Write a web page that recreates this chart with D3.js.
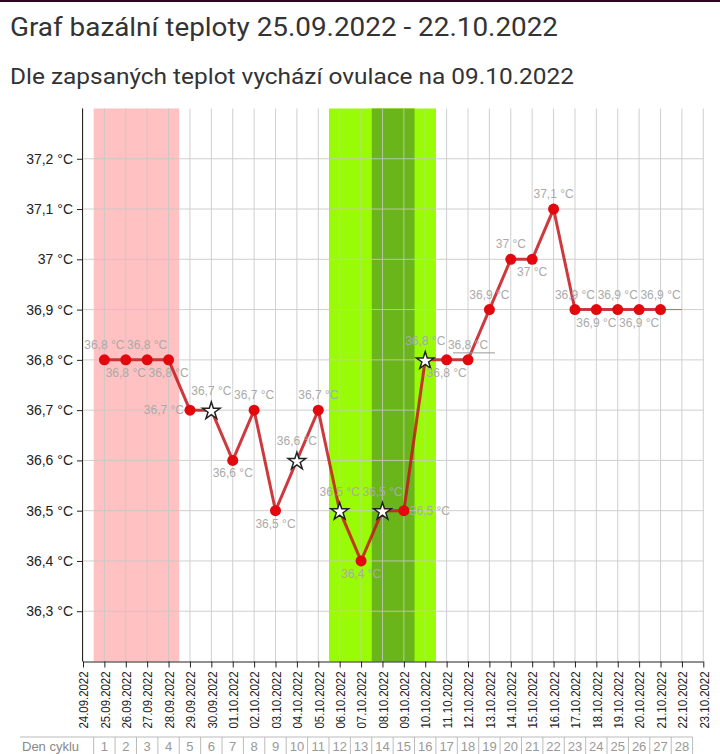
<!DOCTYPE html>
<html><head><meta charset="utf-8">
<script src="https://cdn.jsdelivr.net/npm/d3@7"></script>
<style>
html,body{margin:0;padding:0;background:#fff;}
svg{display:block;}
</style></head>
<body>
<svg id="chart" width="720" height="754"></svg>
<script>
// ---------- data ----------
const title = "Graf bazální teploty 25.09.2022 - 22.10.2022";
const subtitle = "Dle zapsaných teplot vychází ovulace na 09.10.2022";
const dates = ["24.09.2022","25.09.2022","26.09.2022","27.09.2022","28.09.2022","29.09.2022","30.09.2022",
  "01.10.2022","02.10.2022","03.10.2022","04.10.2022","05.10.2022","06.10.2022","07.10.2022","08.10.2022",
  "09.10.2022","10.10.2022","11.10.2022","12.10.2022","13.10.2022","14.10.2022","15.10.2022","16.10.2022",
  "17.10.2022","18.10.2022","19.10.2022","20.10.2022","21.10.2022","22.10.2022","23.10.2022"];
// cycle days 1..28 map to 25.09 .. 22.10
const cycleDays = d3.range(1, 29);
const temps = [36.8,36.8,36.8,36.8,36.7,36.7,36.6,36.7,36.5,36.6,36.7,36.5,36.4,36.5,36.5,36.8,
  36.8,36.8,36.9,37.0,37.0,37.1,36.9,36.9,36.9,36.9,36.9];
const starDays = [6,10,12,14,16];
const labelSide = ["a","b","a","b","l","a","b","a","b","a","a","a","b","a","r","a",
  "b","a","a","a","b","a","a","b","a","b","a"];
const yTicks = [36.3,36.4,36.5,36.6,36.7,36.8,36.9,37.0,37.1,37.2];
const menstruation = [1,4];
const fertile = [12,16];
const peak = [14,15];

// ---------- layout ----------
const svg = d3.select("#chart");
const pL = 83, pR = 703.3, pT = 108.5, pB = 661.5;
const x = d3.scalePoint().domain(dates).range([pL, pR]);
const step = x.step();
const y = d3.scaleLinear().domain([36.2, 37.3]).range([pB, pT]);
const dayX = d => x(dates[d]);
const fmt = v => d3.format(".1f")(v).replace(/\.0$/, "").replace(".", ",") + " °C";

// top border
svg.append("rect").attr("x",0).attr("y",0).attr("width",720).attr("height",2).attr("fill","#2d0626");

// titles
svg.append("text").attr("x",10).attr("y",36).attr("font-family","Roboto").attr("font-size",26)
  .attr("fill","#333").attr("textLength",548).attr("lengthAdjust","spacingAndGlyphs").text(title);
svg.append("text").attr("x",10).attr("y",84).attr("font-family","Roboto").attr("font-size",22.5)
  .attr("fill","#333").attr("textLength",564).attr("lengthAdjust","spacingAndGlyphs").text(subtitle);

// bands
function band(range, color){
  svg.append("rect").attr("x", dayX(range[0]) - step/2).attr("y", pT)
    .attr("width", dayX(range[1]) - dayX(range[0]) + step).attr("height", pB - pT).attr("fill", color);
}
band(menstruation, "#ffc1c1");
band(fertile, "#99fb06");
band(peak, "#69b51a");

// grid
const grid = svg.append("g").attr("stroke","#c8c8c8").attr("stroke-width",1).attr("opacity",0.85);
dates.forEach(d => {
  grid.append("line").attr("x1", x(d)).attr("x2", x(d)).attr("y1", pT).attr("y2", pB);
});
yTicks.forEach(v => {
  grid.append("line").attr("x1", pL).attr("x2", pR).attr("y1", y(v)).attr("y2", y(v));
});

// axes
const yAxis = d3.axisLeft(y).tickValues(yTicks).tickSize(6).tickPadding(4).tickFormat(fmt);
const gy = svg.append("g").attr("transform", `translate(${pL},0)`).call(yAxis);
gy.select(".domain").attr("d", `M-0.5,${pT}V${pB}`).attr("stroke","#222");
gy.selectAll(".tick line").attr("stroke","#222");
gy.selectAll(".tick text").attr("font-family","Arial, Liberation Sans").attr("font-size",14).attr("fill","#222");

const xAxis = d3.axisBottom(x).tickSize(6).tickPadding(4);
const gx = svg.append("g").attr("transform", `translate(0,${pB})`).call(xAxis);
gx.select(".domain").attr("d", `M${pL},0.5H${pR}`).attr("stroke","#222");
gx.selectAll(".tick line").attr("stroke","#222");
gx.selectAll(".tick text").attr("font-family","Arial, Liberation Sans").attr("font-size",13.5).attr("fill","#222")
  .attr("transform","rotate(-90)").attr("text-anchor","end").attr("dy","0.35em")
  .attr("x",-10).attr("y",0).attr("textLength",57).attr("lengthAdjust","spacingAndGlyphs");

// line
const pts = temps.map((t,i) => ({day: i+1, t}));
const lineGen = d3.line().x(p => dayX(p.day)).y(p => y(p.t));
const last = pts[pts.length-1];
svg.append("line").attr("x1", dayX(last.day)).attr("y1", y(last.t)).attr("x2", dayX(last.day+1)).attr("y2", y(last.t))
  .attr("stroke","#c33").attr("stroke-width",1).attr("opacity",0.7);
svg.append("path").datum(pts).attr("d", lineGen).attr("fill","none")
  .attr("stroke","rgb(196,24,28)").attr("stroke-opacity",0.85).attr("stroke-width",3);

// points
const dots = pts.filter(p => !starDays.includes(p.day));
svg.selectAll("circle.pt").data(dots).enter().append("circle").attr("class","pt")
  .attr("cx", p => dayX(p.day)).attr("cy", p => y(p.t)).attr("r",5.5).attr("fill","#e2080d");
const star = d3.symbol().type(d3.symbolStar).size(95);
svg.selectAll("path.star").data(pts.filter(p => starDays.includes(p.day))).enter().append("path").attr("class","star")
  .attr("d", star).attr("transform", p => `translate(${dayX(p.day)},${y(p.t)+1})`)
  .attr("fill","#fff").attr("stroke","#222").attr("stroke-width",1.5);

// value labels
const lbl = svg.append("g").attr("font-family","Arial, Liberation Sans").attr("font-size",12).attr("fill","#aaa");
pts.forEach((p,i) => {
  const side = labelSide[i];
  const px = dayX(p.day), py = y(p.t);
  const isStar = starDays.includes(p.day);
  let tx = px, ty, anchor = "middle";
  if (side === "a") ty = py - (isStar ? 19 : 15) + 4;
  else if (side === "b") ty = py + 13 + 4;
  else if (side === "l") { tx = px - 6; ty = py + 4; anchor = "end"; }
  else { tx = px + 6; ty = py + 4; anchor = "start"; }
  lbl.append("text").attr("x", tx).attr("y", ty).attr("text-anchor", anchor).text(fmt(p.t));
  if (p.day === 18) {
    svg.append("line").attr("x1", px - 15).attr("x2", px + 27).attr("y1", py - 7).attr("y2", py - 7)
      .attr("stroke","#999").attr("stroke-width",1);
  }
});

// cycle-day table
const tbl = svg.append("g");
const tblTop = 737;
const lastX = dayX(cycleDays[cycleDays.length-1]) + step/2;
tbl.append("line").attr("x1",20).attr("x2",lastX).attr("y1",tblTop).attr("y2",tblTop).attr("stroke","#bbb");
tbl.append("text").attr("x",22).attr("y",751).attr("font-family","Arial, Liberation Sans").attr("font-size",13)
  .attr("fill","#888").text("Den cyklu");
cycleDays.forEach(d => {
  const cx = dayX(d);
  tbl.append("line").attr("x1", cx - step/2).attr("x2", cx - step/2).attr("y1", tblTop).attr("y2", 754).attr("stroke","#bbb");
  tbl.append("text").attr("x", cx).attr("y", 751).attr("text-anchor","middle")
    .attr("font-family","Arial, Liberation Sans").attr("font-size",13).attr("fill","#999").text(d);
});
tbl.append("line").attr("x1", lastX).attr("x2", lastX).attr("y1", tblTop).attr("y2", 754).attr("stroke","#bbb");
</script>
</body></html>
